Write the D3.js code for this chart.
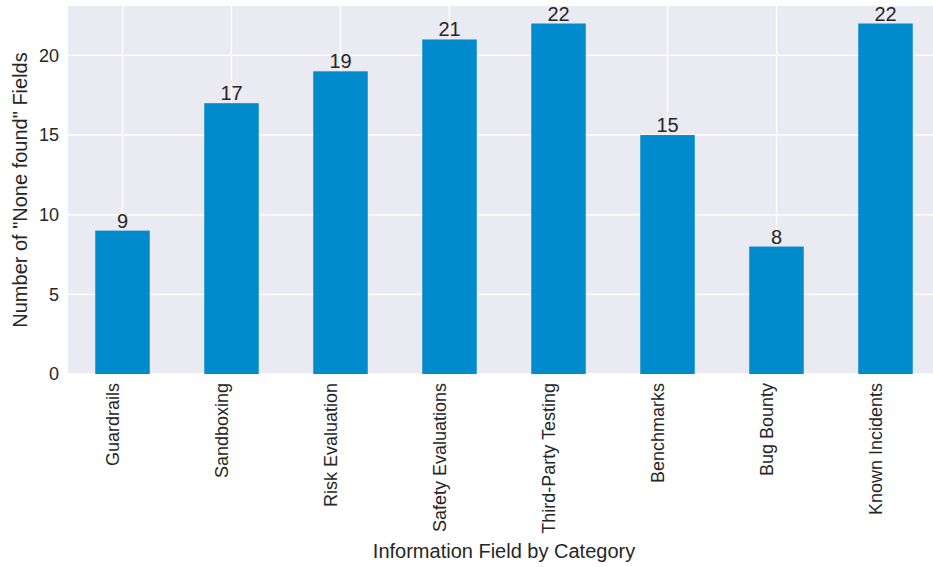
<!doctype html>
<html>
<head>
    <style>
        body { margin: 0; background: #fff; }
        text { font-family: "Liberation Sans", Arial, sans-serif; fill: #262626; }
        .bar { fill: rgb(0, 139, 205); }
        .grid line { stroke: #fff; stroke-width: 1.4; }
    </style>
    <script src="https://d3js.org/d3.v7.min.js"></script>
</head>
<body>
<svg width="933" height="567"></svg>
<script>
var categories = ["Guardrails", "Sandboxing", "Risk Evaluation", "Safety Evaluations",
                  "Third-Party Testing", "Benchmarks", "Bug Bounty", "Known Incidents"];
var noneFound = [9, 17, 19, 21, 22, 15, 8, 22];
var yTicks = [0, 5, 10, 15, 20];

var svg = d3.select("svg"),
    plotLeft = 68, plotRight = 940, plotTop = 6, plotBottom = 374;

var xScale = d3.scaleBand().domain(categories).range([plotLeft, plotRight])
        .paddingInner(0.5).paddingOuter(0.25),
    yScale = d3.scaleLinear().domain([0, d3.max(noneFound) * 1.05]).range([plotBottom, plotTop]);

// plot background
svg.append("rect")
    .attr("x", plotLeft).attr("y", plotTop)
    .attr("width", plotRight - plotLeft).attr("height", plotBottom - plotTop)
    .attr("fill", "#eaeaf2");

// grid
var grid = svg.append("g").attr("class", "grid");
grid.selectAll(".hy").data(yTicks).enter().append("line")
    .attr("x1", plotLeft).attr("x2", plotRight)
    .attr("y1", function(d) { return yScale(d); })
    .attr("y2", function(d) { return yScale(d); });
grid.selectAll(".vx").data(categories).enter().append("line")
    .attr("y1", plotTop).attr("y2", plotBottom)
    .attr("x1", function(d) { return xScale(d) + xScale.bandwidth() / 2; })
    .attr("x2", function(d) { return xScale(d) + xScale.bandwidth() / 2; });

// bars
svg.selectAll(".bar")
    .data(noneFound)
    .enter().append("rect")
    .attr("class", "bar")
    .attr("x", function(d, i) { return xScale(categories[i]); })
    .attr("y", function(d) { return yScale(d); })
    .attr("width", xScale.bandwidth())
    .attr("height", function(d) { return plotBottom - yScale(d); });

// value labels
svg.selectAll(".val")
    .data(noneFound)
    .enter().append("text")
    .attr("x", function(d, i) { return xScale(categories[i]) + xScale.bandwidth() / 2; })
    .attr("y", function(d) { return yScale(d) - 3; })
    .attr("text-anchor", "middle")
    .style("font-size", "20px")
    .text(function(d) { return d; });

// y axis
var yAxis = svg.append("g")
    .attr("transform", "translate(" + plotLeft + ",0)")
    .call(d3.axisLeft(yScale).tickValues(yTicks).tickSize(0).tickPadding(9));
yAxis.select(".domain").remove();
yAxis.selectAll("text").style("font-size", "18px").attr("fill", "#262626")
    .style("font-family", "'Liberation Sans', Arial, sans-serif");

// x axis
var xAxis = svg.append("g")
    .attr("transform", "translate(0," + plotBottom + ")")
    .call(d3.axisBottom(xScale).tickSize(0));
xAxis.select(".domain").remove();
xAxis.selectAll("text")
    .style("font-size", "18px")
    .style("font-family", "'Liberation Sans', Arial, sans-serif")
    .attr("fill", "#262626")
    .attr("text-anchor", "end")
    .attr("transform", "translate(-10,9) rotate(-90)")
    .attr("x", 0).attr("y", 0)
    .attr("dy", "0.35em");

// axis titles
svg.append("text")
    .attr("x", 504)
    .attr("y", 558)
    .attr("text-anchor", "middle")
    .style("font-size", "20px")
    .text("Information Field by Category");

svg.append("text")
    .attr("transform", "translate(27," + (plotTop + plotBottom) / 2 + ") rotate(-90)")
    .attr("text-anchor", "middle")
    .style("font-size", "20px")
    .text("Number of \"None found\" Fields");
</script>
</body>
</html>
